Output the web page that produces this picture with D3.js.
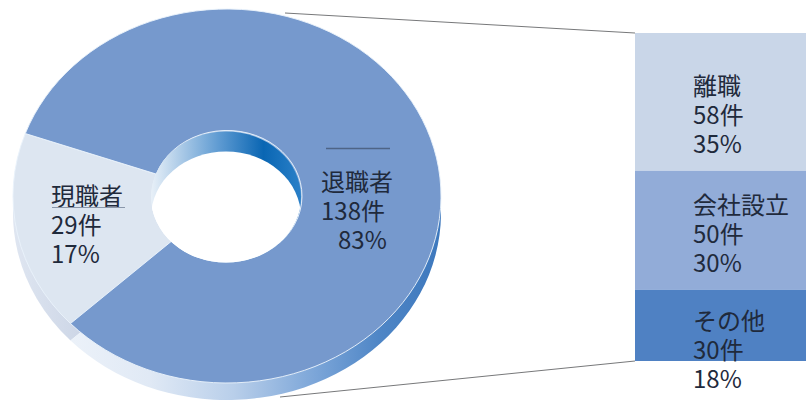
<!DOCTYPE html>
<html lang="ja">
<head>
<meta charset="utf-8">
<script src="https://cdnjs.cloudflare.com/ajax/libs/d3/7.8.5/d3.min.js"></script>
<style>
html,body{margin:0;padding:0;background:#fff;overflow:hidden}
text{font-family:"Noto Sans CJK JP","Noto Sans",sans-serif;font-size:24px;fill:#1f2a3c}
</style>
</head>
<body>
<svg id="chart" width="806" height="401"></svg>
<script>
// Staff status: two-part doughnut, with the leavers broken down in a stacked column.
const statusNames = ["現職者", "退職者"];
const statusCounts = [29, 138];
const statusShares = ["17%", "83%"];
const statusColors = ["#dde6f1", "#7699cd"];

const leaverNames = ["離職", "会社設立", "その他"];
const leaverCounts = [58, 50, 30];
const leaverShares = ["35%", "30%", "18%"];
const leaverColors = ["#c9d6e8", "#92acd8", "#4f81c3"];

const cx = 227, cy = 196, rx = 214, ry = 187, depth = 17;
const holeRx = 75;
const squash = ry / rx;

const svg = d3.select("#chart");
const defs = svg.append("defs");

function gradient(id, stops, x1 = 0, x2 = 1) {
  const g = defs.append("linearGradient").attr("id", id)
    .attr("x1", x1).attr("x2", x2).attr("y1", 0).attr("y2", 0);
  stops.forEach(([o, c]) => g.append("stop").attr("offset", o).attr("stop-color", c));
}
gradient("rimGrad", [[0, "#f2f6fb"], [0.3, "#e0e9f5"], [0.5, "#b9cfea"], [0.7, "#7ba5d8"], [0.85, "#4f86c6"], [1, "#3d78bd"]]);
gradient("rimLeft", [[0, "#dfe6f1"], [1, "#a6b4d0"]]);
gradient("wallGrad", [[0, "#e8f0f8"], [0.45, "#5f9bd2"], [0.75, "#0a66b3"], [1, "#2a80c8"]]);

// Pie layout: the current-staff wedge sits on the left, starting at about 227 degrees.
const pie = d3.pie().sort(null)
  .startAngle(227 * Math.PI / 180)
  .endAngle((227 + 360) * Math.PI / 180);
const slices = pie(statusCounts);
const arc = d3.arc().innerRadius(holeRx).outerRadius(rx);

const flat = sel => sel.attr("transform", `translate(${cx},${cy}) scale(1,${squash})`);
const flatLow = sel => sel.attr("transform", `translate(${cx},${cy + depth}) scale(1,${squash})`);

// Lines joining the doughnut to the column.
const y = d3.scaleLinear().domain([0, d3.sum(leaverCounts)]).range([33, 361]);
const columnX = 635;
svg.append("line").attr("x1", 285).attr("y1", 13).attr("x2", columnX).attr("y2", y(0))
  .attr("stroke", "#77787a").attr("stroke-width", 1);
svg.append("line").attr("x1", 280).attr("y1", 397).attr("x2", columnX).attr("y2", y(138))
  .attr("stroke", "#77787a").attr("stroke-width", 1);

// Rim: the same slices drawn lower, so only their outer edge shows below the top face.
const rim = svg.append("g").call(flatLow);
const rimArc = d3.arc().innerRadius(0).outerRadius(rx);
rim.selectAll("path").data(slices).join("path")
  .attr("d", rimArc)
  .attr("fill", (d, i) => i === 0 ? "url(#rimLeft)" : "url(#rimGrad)");

// Top face of each slice.
const face = svg.append("g").call(flat);
face.selectAll("path").data(slices).join("path")
  .attr("d", arc)
  .attr("fill", (d, i) => statusColors[i])
  .attr("stroke", "#eaf2fb").attr("stroke-width", 1);

// Hole: the far inner wall is the part of the opening not covered by the lowered white ellipse.
const holeX = cx - 1, holeY = cy + 1, holeRy = holeRx * squash;
defs.append("clipPath").attr("id", "holeClip").append("ellipse")
  .attr("cx", holeX).attr("cy", holeY).attr("rx", holeRx).attr("ry", holeRy);
svg.append("ellipse").attr("cx", holeX).attr("cy", holeY)
  .attr("rx", holeRx).attr("ry", holeRy).attr("fill", "url(#wallGrad)");
svg.append("g").attr("clip-path", "url(#holeClip)").append("ellipse")
  .attr("cx", holeX).attr("cy", holeY + 20)
  .attr("rx", holeRx).attr("ry", holeRy).attr("fill", "#fff");
svg.append("rect").attr("x", holeX - holeRx).attr("y", holeY + 10)
  .attr("width", holeRx * 2).attr("height", holeRy)
  .attr("fill", "#fff").attr("clip-path", "url(#holeClip)");

// Leaver breakdown column.
const column = svg.append("g");
let running = 0;
leaverCounts.forEach((count, i) => {
  column.append("rect")
    .attr("x", columnX).attr("width", 806 - columnX)
    .attr("y", y(running)).attr("height", y(running + count) - y(running))
    .attr("fill", leaverColors[i]);
  running += count;
});

function label(x, y0, lines, indent) {
  const t = svg.append("text");
  lines.forEach((s, i) => t.append("tspan")
    .attr("x", x + (indent && indent[i] || 0)).attr("y", y0 + i * 29).text(s));
}

label(51, 205, [statusNames[0], statusCounts[0] + "件", statusShares[0]]);
label(321, 191, [statusNames[1], statusCounts[1] + "件", statusShares[1]], [0, 0, 17]);
// Leader lines beside the two doughnut labels.
svg.append("line").attr("x1", 326).attr("x2", 390).attr("y1", 148.5).attr("y2", 148.5)
  .attr("stroke", "#4e6486").attr("stroke-width", 1.5);
svg.append("line").attr("x1", 52).attr("x2", 125).attr("y1", 207.5).attr("y2", 207.5)
  .attr("stroke", "#8a97aa").attr("stroke-width", 1);

label(693, 95, [leaverNames[0], leaverCounts[0] + "件", leaverShares[0]]);
label(693, 214, [leaverNames[1], leaverCounts[1] + "件", leaverShares[1]]);
label(693, 330, [leaverNames[2], leaverCounts[2] + "件", leaverShares[2]]);
</script>
</body>
</html>
